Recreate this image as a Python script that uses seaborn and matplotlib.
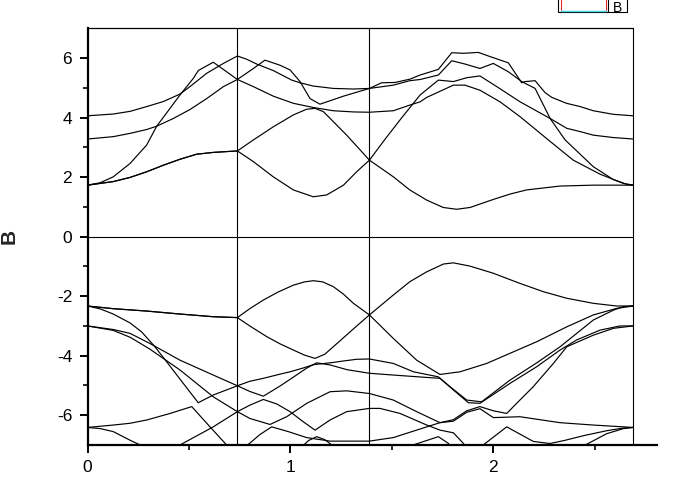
import numpy as np
import pandas as pd
import matplotlib
matplotlib.use("Agg")
import matplotlib.pyplot as plt
import seaborn as sns
from matplotlib.patches import Rectangle
from matplotlib.lines import Line2D

# ---------------- data: band polylines (k, E) ----------------
# conduction bands
k_u1 = [0, 0.127, 0.21, 0.292, 0.374, 0.456, 0.505, 0.588, 0.670, 0.739, 0.785, 0.834, 0.916, 1.007, 1.048, 1.113,
        1.212, 1.311, 1.39, 1.450, 1.516, 1.589, 1.640, 1.730, 1.796, 1.853, 1.927, 1.985, 2.075, 2.141, 2.157, 2.207,
        2.256, 2.289, 2.362, 2.429, 2.494, 2.592, 2.691]
e_u1 = [4.06, 4.12, 4.21, 4.37, 4.54, 4.79, 5.04, 5.49, 5.82, 6.07, 5.96, 5.80, 5.58, 5.26, 5.17, 5.06,
        4.98, 4.96, 4.98, 5.17, 5.18, 5.29, 5.43, 5.62, 6.18, 6.16, 6.19, 6.05, 5.84, 5.17, 5.21, 5.24,
        4.84, 4.68, 4.48, 4.37, 4.23, 4.11, 4.06]

k_u2 = [0, 0.127, 0.21, 0.292, 0.341, 0.423, 0.505, 0.588, 0.670, 0.739, 0.818, 0.916, 1.015, 1.113, 1.212, 1.311,
        1.39, 1.508, 1.589, 1.640, 1.673, 1.804, 1.861, 1.935, 2.034, 2.133, 2.272, 2.395, 2.527, 2.642, 2.691]
e_u2 = [3.28, 3.36, 3.47, 3.60, 3.71, 3.97, 4.27, 4.64, 5.04, 5.28, 5.04, 4.72, 4.48, 4.34, 4.23, 4.19,
        4.18, 4.23, 4.42, 4.53, 4.68, 5.09, 5.09, 4.92, 4.53, 4.03, 3.25, 2.57, 2.10, 1.79, 1.73]

k_u3 = [0, 0.062, 0.127, 0.21, 0.292, 0.341, 0.407, 0.456, 0.522, 0.546, 0.62, 0.686, 0.739, 0.818, 0.875, 0.949,
        0.999, 1.048, 1.097, 1.146, 1.262, 1.39, 1.508, 1.589, 1.640, 1.730, 1.796, 1.861, 1.935, 2.001, 2.075,
        2.141, 2.207, 2.281, 2.355, 2.494, 2.592, 2.658, 2.691]
e_u3 = [1.73, 1.81, 2.01, 2.46, 3.08, 3.71, 4.31, 4.76, 5.32, 5.58, 5.86, 5.54, 5.28, 5.65, 5.93, 5.76,
        5.60, 5.21, 4.64, 4.45, 4.72, 4.98, 5.09, 5.24, 5.28, 5.43, 5.91, 5.80, 5.65, 5.82, 5.54,
        5.21, 4.98, 3.97, 3.25, 2.35, 1.92, 1.76, 1.73]

k_u4 = [0, 0.127, 0.21, 0.292, 0.374, 0.456, 0.538, 0.62, 0.739, 0.818, 0.916, 1.015, 1.08, 1.122, 1.163, 1.278,
        1.39, 1.470, 1.550, 1.640, 1.730, 1.804, 1.870, 1.935, 2.018, 2.133, 2.281, 2.363, 2.429, 2.494, 2.592, 2.691]
e_u4 = [1.73, 1.85, 1.99, 2.18, 2.40, 2.60, 2.77, 2.83, 2.88, 3.25, 3.69, 4.09, 4.28, 4.31, 4.20, 3.41,
        2.57, 3.30, 4.00, 4.76, 5.26, 5.21, 5.34, 5.40, 5.04, 4.53, 3.97, 3.64, 3.53, 3.41, 3.33, 3.28]

k_u5 = [0, 0.127, 0.21, 0.292, 0.374, 0.456, 0.538, 0.62, 0.739, 0.818, 0.916, 1.015, 1.113, 1.179, 1.262, 1.327,
        1.39, 1.508, 1.589, 1.672, 1.754, 1.820, 1.886, 2.001, 2.083, 2.165, 2.330, 2.494, 2.691]
e_u5 = [1.73, 1.85, 1.99, 2.18, 2.40, 2.60, 2.77, 2.83, 2.88, 2.52, 2.01, 1.57, 1.34, 1.40, 1.73, 2.18,
        2.57, 2.01, 1.57, 1.23, 0.98, 0.92, 0.98, 1.25, 1.43, 1.57, 1.70, 1.73, 1.73]

# valence bands
k_v1 = [0, 0.127, 0.292, 0.456, 0.62, 0.739, 0.80, 0.867, 0.94, 1.015, 1.07, 1.114, 1.16, 1.212, 1.26, 1.311,
        1.39, 1.508, 1.623, 1.738, 1.837, 1.968, 2.083, 2.215, 2.363, 2.494, 2.609, 2.691]
e_v1 = [-2.33, -2.42, -2.50, -2.60, -2.69, -2.72, -2.42, -2.13, -1.86, -1.63, -1.52, -1.48, -1.52, -1.68, -1.92, -2.24,
        -2.63, -3.42, -4.15, -4.63, -4.54, -4.26, -3.92, -3.53, -3.03, -2.63, -2.41, -2.33]

k_v2 = [0, 0.127, 0.292, 0.456, 0.62, 0.739, 0.80, 0.884, 0.949, 1.015, 1.07, 1.122, 1.17, 1.245, 1.311,
        1.39, 1.508, 1.590, 1.673, 1.755, 1.804, 1.886, 2.001, 2.132, 2.248, 2.363, 2.494, 2.609, 2.691]
e_v2 = [-2.33, -2.42, -2.50, -2.60, -2.69, -2.72, -3.00, -3.36, -3.60, -3.81, -3.98, -4.09, -3.95, -3.50, -3.10,
        -2.63, -1.96, -1.51, -1.18, -0.92, -0.88, -0.99, -1.23, -1.57, -1.85, -2.07, -2.24, -2.33, -2.33]

k_v3 = [0, 0.064, 0.127, 0.21, 0.267, 0.33, 0.39, 0.47, 0.546, 0.62, 0.739, 0.80, 0.867, 0.949, 1.015, 1.08,
        1.13, 1.196, 1.28, 1.39, 1.508, 1.673, 1.738, 1.804, 1.878, 1.935, 2.083, 2.215, 2.330, 2.412, 2.527,
        2.626, 2.691]
e_v3 = [-2.33, -2.43, -2.60, -2.90, -3.20, -3.68, -4.20, -4.91, -5.58, -5.32, -5.01, -5.20, -5.36, -5.02, -4.72, -4.42,
        -4.24, -4.31, -4.47, -4.59, -4.65, -4.73, -4.76, -5.15, -5.58, -5.60, -4.93, -4.37, -3.81, -3.47, -3.14,
        -3.00, -3.00]

k_v4 = [0, 0.127, 0.21, 0.308, 0.456, 0.62, 0.739, 0.80, 0.867, 0.949, 0.999, 1.06, 1.114, 1.196, 1.27, 1.327,
        1.39, 1.508, 1.607, 1.730, 1.787, 1.870, 1.943, 2.083, 2.215, 2.330, 2.494, 2.593, 2.642, 2.691]
e_v4 = [-3.00, -3.12, -3.25, -3.59, -4.15, -4.65, -5.01, -4.86, -4.76, -4.62, -4.54, -4.42, -4.30, -4.24, -4.17, -4.12,
        -4.11, -4.26, -4.54, -4.71, -5.04, -5.49, -5.55, -4.82, -4.24, -3.70, -2.80, -2.47, -2.35, -2.33]

k_v5 = [0, 0.127, 0.21, 0.308, 0.456, 0.62, 0.739, 0.801, 0.867, 0.933, 0.999, 1.06, 1.122, 1.196, 1.278,
        1.39, 1.442, 1.541, 1.673, 1.738, 1.804, 1.854, 1.87]
e_v5 = [-3.00, -3.15, -3.38, -3.78, -4.48, -5.38, -5.88, -5.66, -5.47, -5.62, -5.88, -6.20, -6.50, -6.16, -5.88,
        -5.77, -5.77, -5.94, -6.33, -6.50, -6.59, -6.95, -7.10]

k_v6 = [0, 0.127, 0.21, 0.292, 0.407, 0.514, 0.604, 0.686, 0.70]
e_v6 = [-6.41, -6.33, -6.27, -6.16, -5.94, -5.71, -6.39, -7.00, -7.15]

k_v7 = [0, 0.064, 0.127, 0.21, 0.26, 0.28]
e_v7 = [-6.41, -6.45, -6.55, -6.84, -7.00, -7.10]

k_v8 = [0.43, 0.456, 0.62, 0.739, 0.801, 0.900, 0.982, 1.081, 1.196, 1.278, 1.39, 1.508, 1.623, 1.738, 1.804,
        1.870, 1.935, 2.001, 2.067, 2.132, 2.198, 2.297, 2.363, 2.494, 2.593, 2.691]
e_v8 = [-7.20, -7.00, -6.39, -5.88, -6.11, -6.31, -6.05, -5.60, -5.21, -5.18, -5.27, -5.49, -5.88, -6.25, -6.15,
        -5.85, -5.71, -5.85, -5.94, -5.49, -5.04, -4.26, -3.70, -3.31, -3.08, -3.00]

k_v9 = [0.78, 0.793, 0.85, 0.908, 0.99, 1.08, 1.196, 1.30, 1.39, 1.508, 1.673, 1.738, 1.804, 1.870, 1.935, 2.001,
        2.132, 2.330, 2.494, 2.691]
e_v9 = [-7.15, -6.98, -6.65, -6.39, -6.55, -6.75, -6.87, -6.87, -6.87, -6.75, -6.39, -6.25, -6.20, -5.90, -5.78, -6.08,
        -6.05, -6.25, -6.33, -6.41]

k_v10 = [1.05, 1.09, 1.13, 1.17, 1.22]
e_v10 = [-7.10, -6.85, -6.72, -6.82, -7.08]

k_v11 = [1.60, 1.614, 1.73, 1.78, 1.79]
e_v11 = [-7.10, -6.98, -6.72, -6.95, -7.10]

k_v12 = [1.93, 1.951, 2.067, 2.198, 2.28, 2.35, 2.45, 2.56, 2.642, 2.691]
e_v12 = [-7.10, -7.00, -6.39, -6.88, -6.95, -6.85, -6.68, -6.52, -6.43, -6.41]

k_v13 = [2.44, 2.46, 2.56, 2.642, 2.691]
e_v13 = [-7.10, -6.98, -6.62, -6.45, -6.41]

k_lines = [0.739, 1.39, 2.691]          # high-symmetry vertical lines
x_ticks = [0, 1, 2]
y_ticks = [-6, -4, -2, 0, 2, 4, 6]
y_label = "B"
legend_label = "B"

bands = [(k_u1, e_u1), (k_u2, e_u2), (k_u3, e_u3), (k_u4, e_u4), (k_u5, e_u5),
         (k_v1, e_v1), (k_v2, e_v2), (k_v3, e_v3), (k_v4, e_v4), (k_v5, e_v5),
         (k_v6, e_v6), (k_v7, e_v7), (k_v8, e_v8), (k_v9, e_v9), (k_v10, e_v10),
         (k_v11, e_v11), (k_v12, e_v12), (k_v13, e_v13)]

frames = []
for i, (kk, ee) in enumerate(bands):
    frames.append(pd.DataFrame({"k": kk, "E": ee, "band": i, "order": range(len(kk))}))
df = pd.concat(frames, ignore_index=True)

# ---------------- figure ----------------
sns.set_style("ticks")
plt.rcParams["font.family"] = ["Liberation Sans", "DejaVu Sans"]

fig = plt.figure(figsize=(6.88, 4.82), dpi=100)
W, H = 688.0, 482.0
ax = fig.add_axes([87.5 / W, 37.0 / H, (656.8 - 87.5) / W, (445.0 - 28.3) / H])

sns.lineplot(data=df, x="k", y="E", units="band", estimator=None, sort=False,
             color="black", linewidth=0.85, ax=ax, legend=False)

ax.set_xlim(0, 2.807)
ax.set_ylim(-7, 7)

kmax = k_lines[-1]
for kv in k_lines:
    ax.axvline(kv, color="black", linewidth=0.8, zorder=1)
ax.plot([0, kmax], [0, 0], color="black", linewidth=0.8)
ax.plot([0, kmax], [7, 7], color="black", linewidth=0.9, clip_on=False)

for s in ["top", "right"]:
    ax.spines[s].set_visible(False)
for s in ["left", "bottom"]:
    ax.spines[s].set_linewidth(1.6)
    ax.spines[s].set_color("black")

ax.set_xticks(x_ticks)
ax.set_xticks([0.5, 1.5, 2.5], minor=True)
ax.set_yticks(y_ticks)
ax.set_yticks([-5, -3, -1, 1, 3, 5], minor=True)
ax.set_xticklabels([str(v) for v in x_ticks])
ax.set_yticklabels([str(v) for v in y_ticks])
ax.tick_params(axis="both", which="major", direction="out", length=6, width=1.4,
               labelsize=12.5, colors="black")
ax.tick_params(axis="both", which="minor", direction="out", length=3.8, width=1.4)
ax.tick_params(axis="x", which="major", pad=5)
ax.tick_params(axis="y", which="major", pad=5)

ax.set_xlabel("")
ax.set_ylabel(y_label, fontsize=15, fontweight="bold", rotation=90)
ax.yaxis.set_label_coords((19 - 87.5) / 569.3, 0.5)

# legend box partly above the top edge, as in the reference
def fx(px):
    return px / W

def fy(py):
    return 1 - py / H

fig.add_artist(Rectangle((fx(558.3), fy(11.7)), fx(627.3) - fx(558.3), fy(-10) - fy(11.7),
                         transform=fig.transFigure, facecolor="white", edgecolor="black",
                         linewidth=0.8, clip_on=False))
fig.add_artist(Line2D([fx(560.7), fx(560.7)], [fy(-5), fy(11)], transform=fig.transFigure,
                      color="#e0302a", linewidth=0.8))
fig.add_artist(Line2D([fx(606.2), fx(606.2)], [fy(-5), fy(11)], transform=fig.transFigure,
                      color="#e0302a", linewidth=0.8))
fig.add_artist(Line2D([fx(560.7), fx(606.2)], [fy(10.8), fy(10.8)], transform=fig.transFigure,
                      color="#40d8e8", linewidth=1.0))
fig.add_artist(Line2D([fx(608.3), fx(608.3)], [fy(-5), fy(11.7)], transform=fig.transFigure,
                      color="black", linewidth=0.8))
fig.text(fx(612.5), fy(1.0), legend_label, fontsize=10, ha="left", va="top", color="black")

fig.savefig("out.png", dpi=100)
